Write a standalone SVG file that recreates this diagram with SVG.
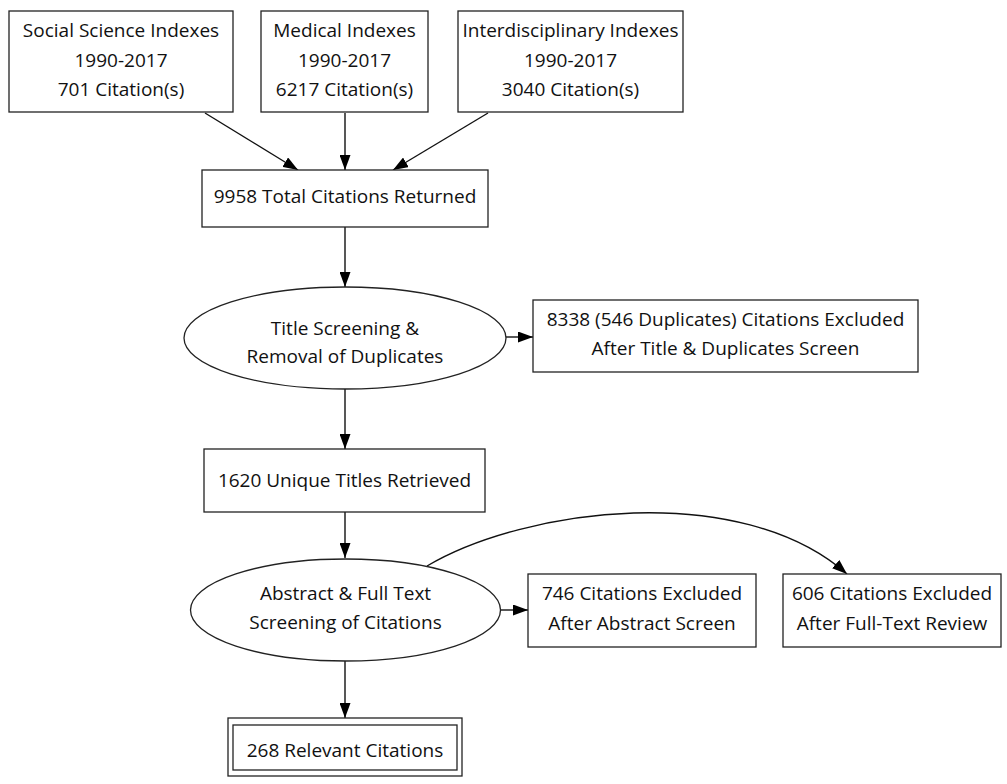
<svg xmlns="http://www.w3.org/2000/svg" width="1007" height="784" viewBox="0 0 1007 784">
<style>
.n{fill:#fff;stroke:#222;stroke-width:1.3}
.t{font-family:"Open Sans","Liberation Sans",sans-serif;font-size:19px;fill:#111;text-anchor:middle}
.e{fill:none;stroke:#111;stroke-width:1.4}
</style>
<defs>
<marker id="ah" markerUnits="userSpaceOnUse" markerWidth="15" markerHeight="11" viewBox="0 0 15 11" refX="15" refY="5.5" orient="auto">
<path d="M0,0 L15,5.5 L0,11 z" fill="#000"/>
</marker>
</defs>
<rect width="1007" height="784" fill="#fff"/>
<g id="connectors">
<path class="e" d="M205,113 L298,170" marker-end="url(#ah)"/>
<path class="e" d="M345,113 L345,170" marker-end="url(#ah)"/>
<path class="e" d="M488,113 L393,170" marker-end="url(#ah)"/>
<path class="e" d="M345,227 L345,287" marker-end="url(#ah)"/>
<path class="e" d="M506,337 L533,337" marker-end="url(#ah)"/>
<path class="e" d="M345,389 L345,449" marker-end="url(#ah)"/>
<path class="e" d="M345,512 L345,558" marker-end="url(#ah)"/>
<path class="e" d="M500,610 L528,610" marker-end="url(#ah)"/>
<path class="e" d="M427,566 C525,508 740,480 847,574" marker-end="url(#ah)"/>
<path class="e" d="M345,661 L345,718" marker-end="url(#ah)"/>
</g>
<g id="social">
<rect class="n" x="9" y="11" width="224" height="101"/>
<text class="t" x="121" y="37">Social Science Indexes</text>
<text class="t" x="121" y="66.5">1990-2017</text>
<text class="t" x="121" y="96">701 Citation(s)</text>
</g>
<g id="medical">
<rect class="n" x="261" y="11" width="167" height="101"/>
<text class="t" x="344.5" y="37">Medical Indexes</text>
<text class="t" x="344.5" y="66.5">1990-2017</text>
<text class="t" x="344.5" y="96">6217 Citation(s)</text>
</g>
<g id="interdisciplinary">
<rect class="n" x="458" y="11" width="225" height="101"/>
<text class="t" x="570.5" y="37">Interdisciplinary Indexes</text>
<text class="t" x="570.5" y="66.5">1990-2017</text>
<text class="t" x="570.5" y="96">3040 Citation(s)</text>
</g>
<g id="total">
<rect class="n" x="202" y="170" width="286" height="57"/>
<text class="t" x="345" y="203">9958 Total Citations Returned</text>
</g>
<g id="title-screening">
<ellipse class="n" cx="345" cy="338" rx="161" ry="51"/>
<text class="t" x="345" y="335">Title Screening &amp;</text>
<text class="t" x="345" y="363">Removal of Duplicates</text>
</g>
<g id="excluded-title">
<rect class="n" x="533" y="300" width="385" height="72"/>
<text class="t" x="725.5" y="326">8338 (546 Duplicates) Citations Excluded</text>
<text class="t" x="725.5" y="355">After Title &amp; Duplicates Screen</text>
</g>
<g id="unique">
<rect class="n" x="204" y="449" width="281" height="63"/>
<text class="t" x="344.5" y="487">1620 Unique Titles Retrieved</text>
</g>
<g id="abstract-screening">
<ellipse class="n" cx="345.5" cy="610" rx="155" ry="51"/>
<text class="t" x="345.5" y="600">Abstract &amp; Full Text</text>
<text class="t" x="345.5" y="629">Screening of Citations</text>
</g>
<g id="excluded-abstract">
<rect class="n" x="528" y="574" width="228" height="73"/>
<text class="t" x="642" y="600">746 Citations Excluded</text>
<text class="t" x="642" y="630">After Abstract Screen</text>
</g>
<g id="excluded-fulltext">
<rect class="n" x="783" y="574" width="218" height="73"/>
<text class="t" x="892" y="600">606 Citations Excluded</text>
<text class="t" x="892" y="630">After Full-Text Review</text>
</g>
<g id="relevant">
<rect class="n" x="228" y="718" width="234" height="58"/>
<rect class="n" x="233" y="725" width="224" height="45"/>
<text class="t" x="345" y="757">268 Relevant Citations</text>
</g>
</svg>
